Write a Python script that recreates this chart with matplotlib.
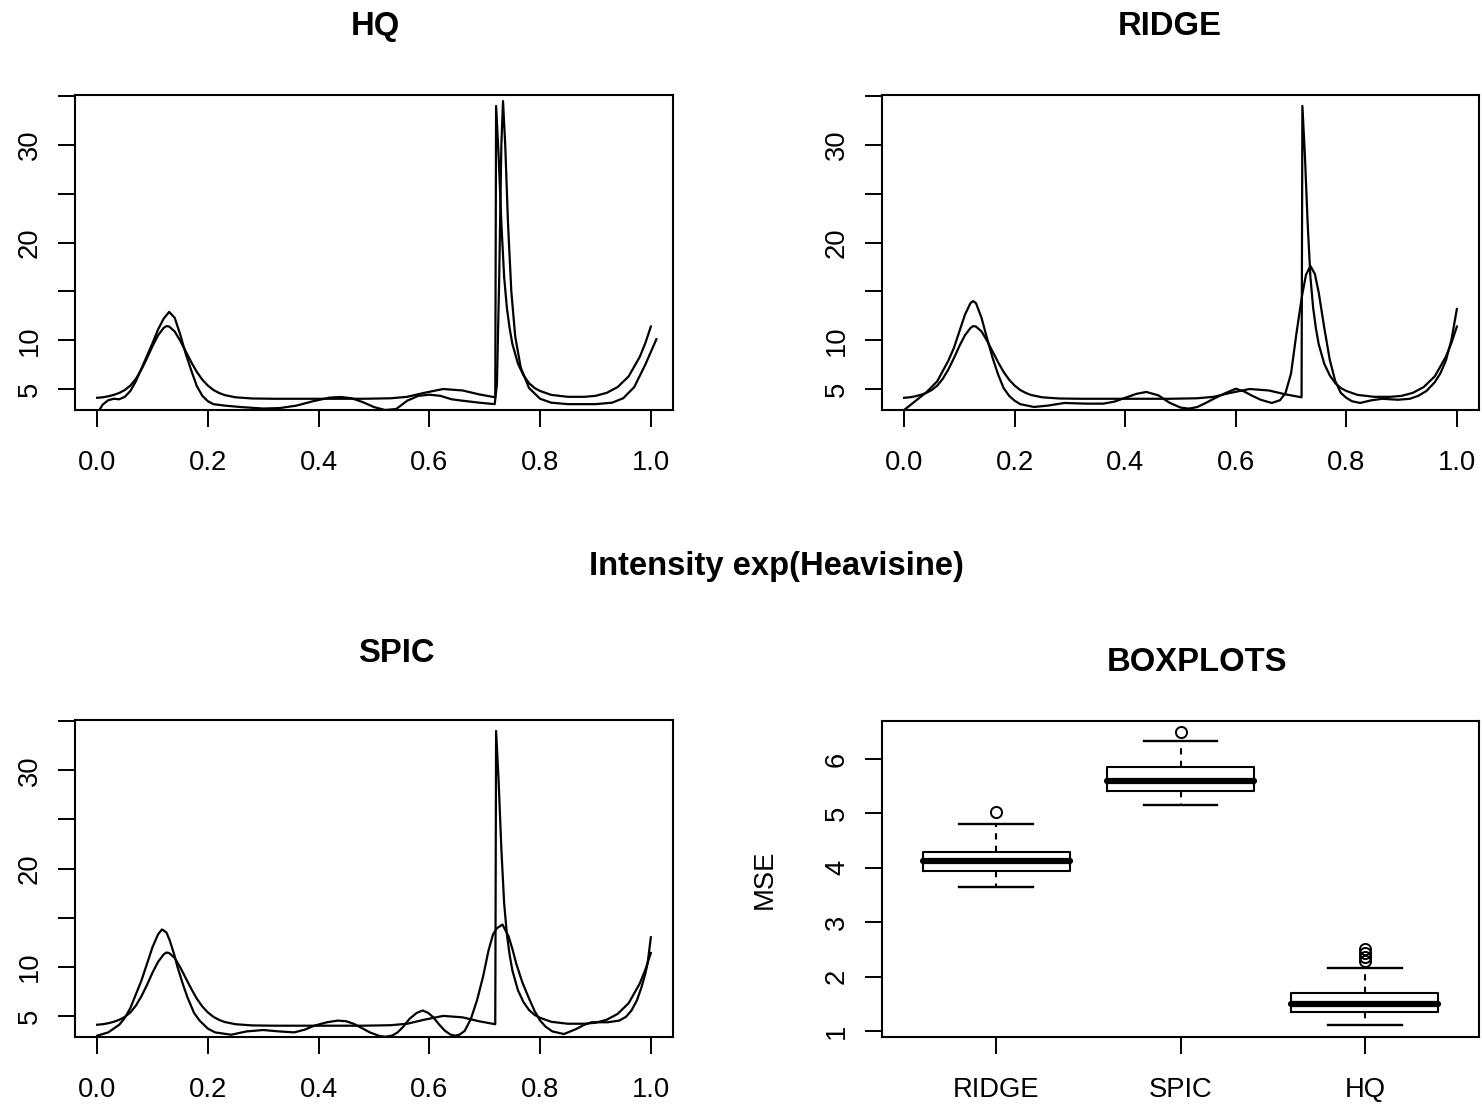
import matplotlib
matplotlib.use("Agg")
import matplotlib.pyplot as plt

plt.rcParams['font.family'] = ['Liberation Sans', 'DejaVu Sans']

# ---------------- data ----------------
true_t = [0.0, 0.01, 0.02, 0.03, 0.04, 0.05, 0.06, 0.07, 0.08, 0.09, 0.10, 0.11, 0.12, 0.125,
          0.13, 0.14, 0.15, 0.16, 0.17, 0.18, 0.19, 0.20, 0.21, 0.22, 0.23, 0.25, 0.28, 0.32,
          0.40, 0.48, 0.53, 0.56, 0.59, 0.625, 0.66, 0.69, 0.719, 0.7205, 0.725, 0.73, 0.735,
          0.74, 0.745, 0.75, 0.76, 0.77, 0.78, 0.79, 0.80, 0.82, 0.85, 0.88, 0.90, 0.92, 0.94,
          0.96, 0.98, 0.99, 1.0]
true_y = [4.1, 4.15, 4.25, 4.4, 4.6, 4.9, 5.35, 6.05, 7.0, 8.15, 9.4, 10.5, 11.25, 11.45,
          11.4, 10.9, 9.95, 8.85, 7.75, 6.75, 5.95, 5.35, 4.9, 4.6, 4.38, 4.15, 4.03, 4.0,
          4.0, 4.0, 4.05, 4.2, 4.6, 5.0, 4.85, 4.45, 4.15, 34.0, 29.0, 22.0, 16.5,
          13.3, 11.2, 9.6, 7.6, 6.4, 5.6, 5.1, 4.8, 4.4, 4.2, 4.2, 4.3, 4.6, 5.2,
          6.3, 8.3, 9.7, 11.4]

hq_t = [0.0, 0.01, 0.02, 0.03, 0.04, 0.05, 0.06, 0.07, 0.08, 0.09, 0.10, 0.11, 0.12, 0.13,
        0.14, 0.15, 0.16, 0.17, 0.18, 0.19, 0.20, 0.21, 0.23, 0.26, 0.30, 0.33, 0.36, 0.39,
        0.42, 0.44, 0.46, 0.48, 0.50, 0.52, 0.54, 0.56, 0.58, 0.60, 0.62, 0.64, 0.66, 0.69,
        0.718, 0.722, 0.726, 0.730, 0.733, 0.737, 0.742, 0.748, 0.755, 0.765, 0.78, 0.80,
        0.82, 0.85, 0.90, 0.93, 0.95, 0.97, 0.99, 1.01]
hq_y = [2.5, 3.4, 3.85, 4.0, 3.95, 4.2, 4.8, 5.8, 7.1, 8.4, 9.7, 11.1, 12.2, 12.9,
        12.3, 10.6, 8.6, 6.9, 5.3, 4.3, 3.75, 3.45, 3.3, 3.15, 3.0, 3.05, 3.3, 3.75,
        4.12, 4.18, 4.05, 3.65, 3.15, 2.85, 2.95, 3.8, 4.3, 4.42, 4.3, 3.95, 3.8, 3.6,
        3.45, 5.5, 16.0, 30.0, 34.5, 30.0, 22.0, 15.0, 10.4, 7.2, 5.1, 4.0,
        3.6, 3.45, 3.45, 3.6, 4.05, 5.2, 7.5, 10.1]

ridge_t = [0.0, 0.02, 0.04, 0.06, 0.08, 0.09, 0.10, 0.11, 0.12, 0.125, 0.13, 0.14, 0.15,
           0.16, 0.17, 0.18, 0.19, 0.20, 0.21, 0.235, 0.26, 0.29, 0.33, 0.36, 0.38, 0.40,
           0.42, 0.438, 0.46, 0.48, 0.50, 0.515, 0.53, 0.545, 0.56, 0.58, 0.60, 0.615, 0.63,
           0.645, 0.665, 0.68, 0.69, 0.70, 0.71, 0.72, 0.727, 0.735, 0.743, 0.75, 0.76, 0.77,
           0.78, 0.79, 0.80, 0.81, 0.825, 0.845, 0.865, 0.893, 0.915, 0.93, 0.945, 0.96,
           0.97, 0.98, 0.99, 1.0]
ridge_y = [2.85, 3.75, 4.65, 5.8, 7.9, 9.2, 10.9, 12.6, 13.8, 14.0, 13.8, 12.3, 10.2,
           8.2, 6.5, 5.1, 4.3, 3.8, 3.45, 3.16, 3.3, 3.57, 3.5, 3.5, 3.7, 4.1,
           4.5, 4.7, 4.35, 3.6, 3.1, 2.99, 3.15, 3.55, 4.0, 4.55, 5.03, 4.75, 4.3,
           3.9, 3.57, 3.85, 4.6, 6.6, 10.8, 14.6, 16.7, 17.6, 16.8, 14.9, 11.3, 8.0,
           5.8, 4.6, 4.1, 3.75, 3.57, 3.84, 4.0, 3.9, 4.0, 4.3, 4.8, 5.7,
           6.6, 7.9, 10.0, 13.2]

spic_t = [0.0, 0.02, 0.04, 0.05, 0.06, 0.07, 0.08, 0.09, 0.10, 0.11, 0.117, 0.125, 0.131,
          0.14, 0.145, 0.155, 0.163, 0.175, 0.185, 0.20, 0.213, 0.242, 0.27, 0.30, 0.328,
          0.356, 0.375, 0.392, 0.415, 0.435, 0.45, 0.464, 0.48, 0.4925, 0.51, 0.521, 0.533,
          0.5426, 0.553, 0.564, 0.577, 0.588, 0.598, 0.607, 0.618, 0.628, 0.638, 0.646,
          0.655, 0.664, 0.675, 0.686, 0.697, 0.707, 0.715, 0.7215, 0.732, 0.743, 0.75,
          0.757, 0.768, 0.779, 0.79, 0.80, 0.81, 0.822, 0.843, 0.865, 0.88, 0.893, 0.922,
          0.943, 0.955, 0.965, 0.975, 0.983, 0.99, 0.994, 1.0]
spic_y = [2.98, 3.32, 4.1, 4.8, 5.8, 7.2, 8.6, 10.3, 12.0, 13.3, 13.8, 13.5, 12.7,
          11.1, 10.0, 8.2, 6.9, 5.3, 4.52, 3.7, 3.32, 3.08, 3.42, 3.56, 3.42,
          3.32, 3.6, 4.0, 4.35, 4.52, 4.45, 4.18, 3.7, 3.32, 2.95, 2.88, 3.0,
          3.32, 3.9, 4.69, 5.3, 5.55, 5.3, 4.86, 4.1, 3.49, 3.1, 2.98,
          3.1, 3.49, 4.7, 6.58, 9.0, 11.7, 13.3, 13.9, 14.3, 13.1, 11.8,
          10.3, 8.4, 6.9, 5.5, 4.52, 3.9, 3.42, 3.15, 3.66, 4.1, 4.35, 4.35,
          4.52, 4.9, 5.55, 6.6, 7.9, 9.3, 10.3, 13.0]

curve_titles = ["HQ", "RIDGE", "SPIC"]
x_ticks = [0.0, 0.2, 0.4, 0.6, 0.8, 1.0]
x_ticklabels = ["0.0", "0.2", "0.4", "0.6", "0.8", "1.0"]
y_ticks = [5, 10, 15, 20, 25, 30, 35]
y_ticklabels = ["5", "10", "", "20", "", "30", ""]

box_names = ["RIDGE", "SPIC", "HQ"]
box_whislo = [3.65, 5.16, 1.105]
box_q1 = [3.94, 5.41, 1.355]
box_med = [4.12, 5.59, 1.50]
box_q3 = [4.30, 5.85, 1.70]
box_whishi = [4.80, 6.34, 2.15]
box_fliers = [[5.03], [6.49], [2.29, 2.36, 2.43, 2.50]]
box_yticks = [1, 2, 3, 4, 5, 6]

main_title = "Intensity exp(Heavisine)"

# ---------------- figure ----------------
W, H = 1482, 1104
fig = plt.figure(figsize=(W / 100, H / 100), dpi=100)

def rect(left, top, right, bottom):
    return [left / W, 1 - bottom / H, (right - left) / W, (bottom - top) / H]

TICK_FS = 19.7
TITLE_FS = 23.6
LW = 1.6

def style_axes(ax):
    for s in ax.spines.values():
        s.set_linewidth(1.5)
        s.set_color("black")
    ax.tick_params(direction="out", length=12, width=1.4, labelsize=TICK_FS, color="black")
    ax.tick_params(axis="x", pad=17)
    ax.tick_params(axis="y", pad=11)
    for lab in ax.get_yticklabels():
        lab.set_rotation(90)
        lab.set_va("center")

ax_hq = fig.add_axes(rect(75, 95, 673, 410))
ax_ridge = fig.add_axes(rect(882, 95, 1479, 410))
ax_spic = fig.add_axes(rect(75, 720, 673, 1037))
ax_box = fig.add_axes(rect(882, 721, 1479, 1037))

curve_axes = [ax_hq, ax_ridge, ax_spic]
est_t = [hq_t, ridge_t, spic_t]
est_y = [hq_y, ridge_y, spic_y]
title_x = [0.502, 0.482, 0.537]
title_y = [1.216, 1.216, 1.211]

for ax, et, ey, ttl, tx, ty in zip(curve_axes, est_t, est_y, curve_titles, title_x, title_y):
    ax.plot(true_t, true_y, color="black", lw=LW)
    ax.plot(et, ey, color="black", lw=LW)
    ax.set_xlim(-0.04, 1.04)
    ax.set_ylim(2.85, 35.12)
    ax.set_xticks(x_ticks)
    ax.set_xticklabels(x_ticklabels)
    ax.set_yticks(y_ticks)
    ax.set_yticklabels(y_ticklabels)
    style_axes(ax)
    ax.text(tx, ty, ttl, transform=ax.transAxes, ha="center", va="center",
            fontsize=TITLE_FS, fontweight="bold")

# boxplots
stats = []
for i in range(len(box_names)):
    stats.append(dict(label=box_names[i], whislo=box_whislo[i], q1=box_q1[i], med=box_med[i],
                      q3=box_q3[i], whishi=box_whishi[i], fliers=box_fliers[i]))
ax_box.bxp(stats, positions=[1, 2, 3], widths=0.8, showfliers=True,
           boxprops=dict(color="black", lw=1.5),
           medianprops=dict(color="black", lw=4.5, solid_capstyle="round"),
           whiskerprops=dict(color="black", lw=1.5, linestyle=(0, (3, 3))),
           capprops=dict(color="black", lw=1.7),
           flierprops=dict(marker="o", markerfacecolor="none", markeredgecolor="black",
                           markersize=8, markeredgewidth=1.4))
ax_box.set_xlim(0.38, 3.62)
ax_box.set_ylim(0.89, 6.70)
ax_box.set_xticks([1, 2, 3])
ax_box.set_xticklabels(box_names)
ax_box.set_yticks(box_yticks)
ax_box.set_yticklabels([str(v) for v in box_yticks])
style_axes(ax_box)
ax_box.set_ylabel("MSE", fontsize=TICK_FS, va="center")
ax_box.yaxis.set_label_coords((765 - 882) / 597, 0.5)
ax_box.text(0.528, 1.184, "BOXPLOTS", transform=ax_box.transAxes, ha="center", va="center",
            fontsize=TITLE_FS, fontweight="bold")

fig.text(776.5 / W, 1 - 567 / H, main_title, ha="center", va="center",
         fontsize=TITLE_FS, fontweight="bold")

fig.savefig("out.png", dpi=100, facecolor="white")
